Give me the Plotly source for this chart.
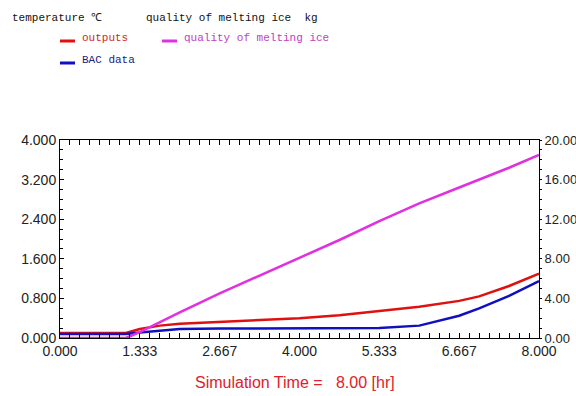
import plotly.graph_objects as go

time_hr = [0, 0.5, 1.0, 1.1, 1.333, 1.667, 2.0, 2.667, 3.333, 4.0, 4.667, 5.333, 6.0, 6.667, 7.0, 7.5, 8.0]
outputs = [0.10, 0.10, 0.10, 0.10, 0.18, 0.25, 0.29, 0.33, 0.36, 0.40, 0.46, 0.54, 0.63, 0.75, 0.84, 1.05, 1.30]
bac_data = [0.08, 0.08, 0.08, 0.08, 0.11, 0.14, 0.18, 0.19, 0.19, 0.19, 0.19, 0.20, 0.25, 0.45, 0.60, 0.85, 1.15]
melting_ice = [0, 0, 0, 0, 0.6, 1.6, 2.6, 4.5, 6.3, 8.1, 9.9, 11.8, 13.6, 15.2, 16.0, 17.2, 18.5]

x_ticks = [0, 1.333, 2.667, 4.0, 5.333, 6.667, 8.0]
x_ticktext = ["0.000", "1.333", "2.667", "4.000", "5.333", "6.667", "8.000"]
y1_ticks = [0, 0.8, 1.6, 2.4, 3.2, 4.0]
y2_ticks = [0, 4, 8, 12, 16, 20]

RED = "#e01010"
BLUE = "#1010c0"
MAG = "#e030e0"

# plot area in pixels
L, R, T, B = 60, 539, 140, 338
PW, PH = R - L, B - T


def px(x):
    return (x - L) / PW


def py(y):
    return (B - y) / PH


fig = go.Figure()
fig.add_trace(go.Scatter(x=time_hr, y=melting_ice, mode="lines", line=dict(color=MAG, width=2.5), yaxis="y2", name="quality of melting ice"))
fig.add_trace(go.Scatter(x=time_hr, y=outputs, mode="lines", line=dict(color=RED, width=2.5), name="outputs"))
fig.add_trace(go.Scatter(x=time_hr, y=bac_data, mode="lines", line=dict(color=BLUE, width=2.5), name="BAC data"))

tickfont = dict(family="Liberation Sans, Arial", size=14, color="#222")
fig.update_layout(
    width=576, height=396,
    margin=dict(l=L, r=576 - R, t=T, b=396 - B, pad=0, autoexpand=False),
    paper_bgcolor="white", plot_bgcolor="white",
    showlegend=False,
    xaxis=dict(range=[0, 8], tickvals=x_ticks, ticktext=x_ticktext, showgrid=False, zeroline=False,
               automargin=False,
               showline=True, linecolor="black", linewidth=1, mirror="allticks",
               ticks="inside", ticklen=5, tickcolor="black",
               minor=dict(ticks="inside", ticklen=3, dtick=1 / 6, tick0=0, tickcolor="black"),
               tickfont=tickfont),
    yaxis=dict(range=[0, 4], tickvals=y1_ticks, tickformat=".3f", showgrid=False, zeroline=False,
               automargin=False,
               showline=True, linecolor="black", linewidth=1, mirror=True,
               ticks="inside", ticklen=4, tickcolor="black",
               minor=dict(ticks="inside", ticklen=3, dtick=0.2, tick0=0, tickcolor="black"),
               tickfont=tickfont),
    yaxis2=dict(range=[0, 20], tickvals=y2_ticks, tickformat=".2f", overlaying="y", side="right",
                showgrid=False, zeroline=False, showline=False, automargin=False,
                ticks="outside", ticklen=2, tickcolor="black",
                minor=dict(ticks="outside", ticklen=2, dtick=1, tick0=0, tickcolor="black"),
                tickfont=dict(family="Liberation Sans, Arial", size=13, color="#222")),
)

mono = "Liberation Mono, DejaVu Sans Mono, monospace"
fig.add_annotation(text="temperature ℃", x=px(10), y=py(18), xref="paper", yref="paper",
                   showarrow=False, xanchor="left", yanchor="middle", font=dict(family=mono, size=11, color="#111"))
fig.add_annotation(text="quality of melting ice  kg", x=px(144), y=py(18), xref="paper", yref="paper",
                   showarrow=False, xanchor="left", yanchor="middle", font=dict(family=mono, size=11, color="#111"))

legend_items = [
    ("outputs", RED, "#d02828", 60, 41),
    ("quality of melting ice", MAG, "#c040c0", 162, 41),
    ("BAC data", BLUE, "#202080", 60, 63),
]
for label, lc, tc, lx, ly in legend_items:
    fig.add_shape(type="line", xref="paper", yref="paper",
                  x0=px(lx), x1=px(lx + 15), y0=py(ly), y1=py(ly),
                  line=dict(color=lc, width=3))
    fig.add_annotation(text=label, x=px(lx + 20), y=py(ly - 3), xref="paper", yref="paper",
                       showarrow=False, xanchor="left", yanchor="middle", font=dict(family=mono, size=11, color=tc))

fig.add_annotation(text="Simulation Time =   8.00 [hr]", x=px(295), y=py(382), xref="paper", yref="paper",
                   xanchor="center", yanchor="middle", showarrow=False,
                   font=dict(family="Liberation Sans, Arial", size=16, color="#e0202a"))

fig.write_html("out.html", config={"displayModeBar": False},
               post_script="document.body.style.margin='0';document.body.style.overflow='hidden';")
